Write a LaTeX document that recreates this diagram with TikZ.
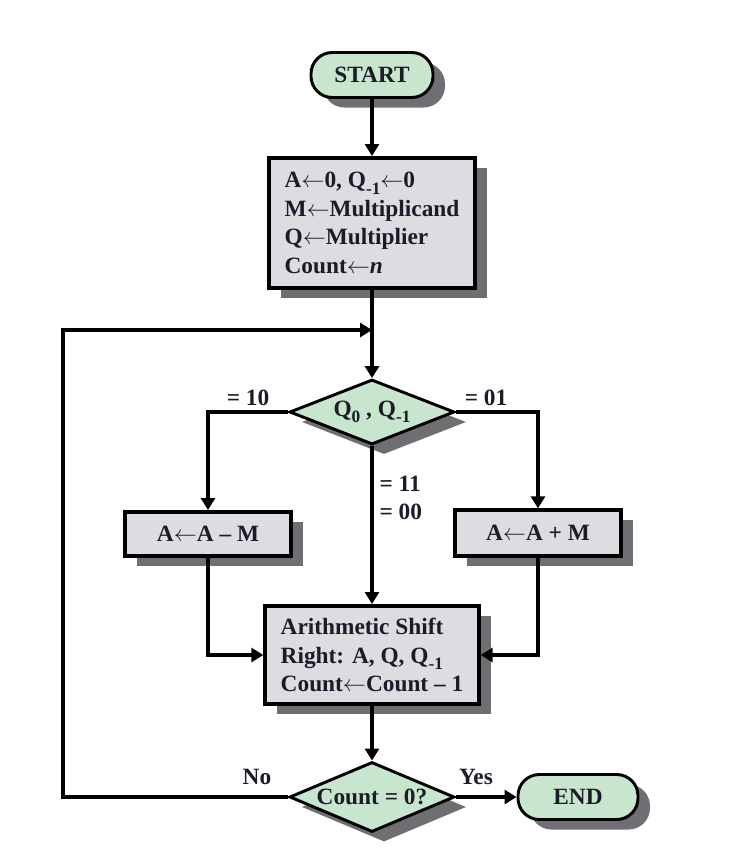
\documentclass[tikz,border=0pt]{standalone}
\usepackage{fontspec}
\setmainfont{Liberation Serif}
\usepackage{tikz}
\usepackage{xcolor}
\usetikzlibrary{positioning,shapes.geometric,arrows.meta,shadows}

\definecolor{boxgray}{HTML}{DCDDE1}
\definecolor{termgreen}{HTML}{C8E6CD}
\definecolor{shadegray}{HTML}{6F6F73}
\definecolor{ink}{HTML}{1B1B2A}
\newcommand{\lowidx}[1]{\raisebox{-0.6ex}{\fontsize{13}{13}\selectfont #1}}
\newcommand{\getsarrow}{\ensuremath{\leftarrow}}

\begin{document}
\begin{tikzpicture}[x=0.75pt,y=-0.75pt,
  every node/.style={font=\fontsize{17.5}{21.4}\selectfont\bfseries,text=ink},
  dropsh/.style={drop shadow={shadow xshift=9pt,shadow yshift=-7.5pt,fill=shadegray,opacity=1}},
  term/.style={draw,line width=2.2pt,fill=termgreen,rounded corners=16pt,minimum height=33.75pt,dropsh},
  proc/.style={draw,line width=3pt,fill=boxgray,dropsh},
  decide/.style={draw,diamond,aspect=2.4,inner sep=0pt,line width=2.2pt,fill=termgreen,dropsh},
  flow/.style={line width=3pt,-{Triangle[length=9pt,width=10.5pt]}},
  lbl/.style={inner sep=1pt}]
  % --- frame 743 x 856 px ---
  \useasboundingbox (0,0) rectangle (743,856);
  % terminals and boxes
  \node[term,minimum width=91.5pt] (start) at (372,75) {START};
  \node[proc,minimum width=154.5pt,minimum height=97.5pt,align=left] (init) at (372,223)
    {A\getsarrow0, Q\lowidx{-1}\getsarrow0\\M\getsarrow Multiplicand\\Q\getsarrow Multiplier\\Count\getsarrow\textit{n}};
  \node[decide,minimum width=123.75pt,minimum height=48.75pt] (test) at (372,412) {Q\lowidx{0} , Q\lowidx{-1}};
  \node[proc,minimum width=124.5pt,minimum height=33pt] (subtr) at (208,534) {A\getsarrow A – M};
  \node[proc,minimum width=124.5pt,minimum height=34pt] (addm) at (538,533) {A\getsarrow A + M};
  \node[proc,minimum width=160pt,minimum height=73.5pt,align=left] (shift) at (372,655)
    {Arithmetic Shift\\Right: A, Q, Q\lowidx{-1}\\Count\getsarrow Count – 1};
  \node[decide,minimum width=123.75pt,minimum height=52.5pt] (check) at (372,797) {Count = 0?};
  \node[term,minimum width=90pt] (finish) at (578,797) {END};
  \coordinate (join) at (372,330);
  \coordinate (back) at (63,797);
  % connectors
  \draw[flow] (start) -- (init);
  \draw[flow] (init) -- (test);
  \draw[flow] (test.west) -| (subtr.north);
  \draw[flow] (test.east) -| (addm.north);
  \draw[flow] (test) -- (shift);
  \draw[flow] (subtr.south) |- (shift.west);
  \draw[flow] (addm.south) |- (shift.east);
  \draw[flow] (shift) -- (check);
  \draw[flow] (check) -- (finish);
  \draw[flow] (check.west) -- (back) |- (join);
  % branch labels
  \node[lbl] (l10) at (248,398) {= 10};
  \node[lbl] (l01) at (486,398) {= 01};
  \node[lbl,anchor=west] (l11) at (378,484) {= 11};
  \node[lbl,anchor=west] (l00) at (378,512) {= 00};
  \node[lbl] (lno) at (257,777) {No};
  \node[lbl] (lyes) at (476,777) {Yes};
\end{tikzpicture}
\end{document}
